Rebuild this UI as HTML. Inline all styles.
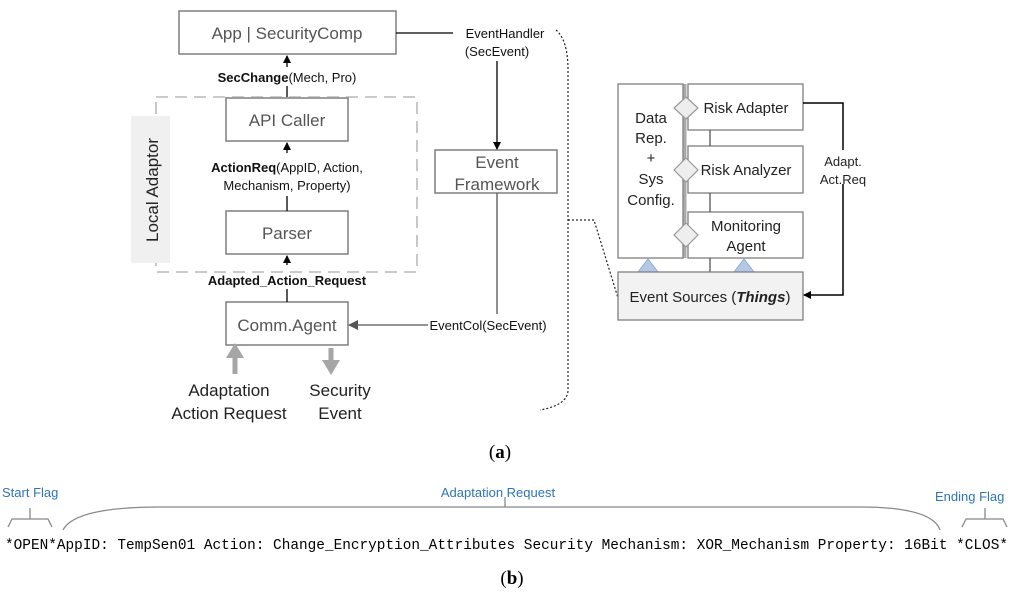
<!DOCTYPE html>
<html><head><meta charset="utf-8"><style>body{margin:0;background:#fff}svg{display:block}</style></head><body>
<svg width="1024" height="598" viewBox="0 0 1024 598" xmlns="http://www.w3.org/2000/svg" font-family="Liberation Sans, sans-serif">
<defs>
<marker id="a" markerWidth="8" markerHeight="8" refX="7" refY="4" orient="auto" markerUnits="userSpaceOnUse"><path d="M0,0 L8,4 L0,8z" fill="#000"/></marker>
<marker id="g" markerWidth="10" markerHeight="10" refX="9" refY="5" orient="auto" markerUnits="userSpaceOnUse"><path d="M0,0 L10,5 L0,10z" fill="#555"/></marker>
</defs>
<g fill="#fff" stroke="#7f7f7f" stroke-width="1.5">
<rect x="179" y="11" width="217" height="43"/>
<rect x="226" y="98" width="122" height="43"/>
<rect x="226" y="211" width="122" height="43"/>
<rect x="226" y="302" width="122" height="43"/>
<rect x="435" y="150" width="122" height="43"/>
</g>
<rect x="156" y="97" width="261" height="175" fill="none" stroke="#aaa" stroke-width="1.3" stroke-dasharray="12,7"/>
<rect x="131" y="116" width="39" height="147" fill="#f0f0f0"/>
<text transform="translate(158,190) rotate(-90)" text-anchor="middle" font-size="17" fill="#222">Local Adaptor</text>
<g font-size="17" fill="#555" text-anchor="middle">
<text x="287" y="39">App | SecurityComp</text>
<text x="287" y="126">API Caller</text>
<text x="287" y="239">Parser</text>
<text x="287" y="331">Comm.Agent</text>
<text x="497" y="168">Event</text>
<text x="497" y="190">Framework</text>
</g>
<g stroke="#000" stroke-width="1.3" fill="none">
<line x1="287" y1="97" x2="287" y2="86"/><line x1="287" y1="67" x2="287" y2="56" marker-end="url(#a)"/>
<line x1="287" y1="211" x2="287" y2="196"/><line x1="287" y1="153" x2="287" y2="143" marker-end="url(#a)"/>
<line x1="287" y1="302" x2="287" y2="289"/><line x1="287" y1="265" x2="287" y2="256" marker-end="url(#a)"/>
<line x1="396" y1="33" x2="453" y2="33"/>
<line x1="497" y1="61" x2="497" y2="149" marker-end="url(#a)"/>
<line x1="497" y1="193" x2="497" y2="314" stroke="#555"/>
<line x1="428" y1="325" x2="349" y2="325" stroke="#555" marker-end="url(#g)"/>
</g>
<g font-size="13" text-anchor="middle" fill="#111">
<text x="287" y="82"><tspan font-weight="bold">SecChange</tspan>(Mech, Pro)</text>
<text x="287" y="172"><tspan font-weight="bold">ActionReq</tspan>(AppID, Action,</text>
<text x="287" y="190">Mechanism, Property)</text>
<text x="287" y="285" font-weight="bold">Adapted_Action_Request</text>
<text x="505" y="38">EventHandler</text>
<text x="497" y="56">(SecEvent)</text>
<text x="488" y="330">EventCol(SecEvent)</text>
</g>
<path d="M235,374 V355" stroke="#a6a6a6" stroke-width="5"/><path d="M226,358 L235,343 L244,358z" fill="#a6a6a6"/>
<path d="M331,348 V362" stroke="#a6a6a6" stroke-width="5"/><path d="M322,360 L331,375 L340,360z" fill="#a6a6a6"/>
<g font-size="17" text-anchor="middle" fill="#222">
<text x="229" y="396">Adaptation</text><text x="229" y="419">Action Request</text>
<text x="340" y="396">Security</text><text x="340" y="419">Event</text>
</g>
<path d="M556,30 Q568,40 568,70 V390 Q568,405 540,410" fill="none" stroke="#222" stroke-width="1.2" stroke-dasharray="2,2"/>
<path d="M568,220 H594 L618,298" fill="none" stroke="#222" stroke-width="1.2" stroke-dasharray="2,2"/>
<g fill="#fff" stroke="#7f7f7f" stroke-width="1.3">
<rect x="618" y="84" width="65" height="174"/>
<rect x="688" y="84" width="115" height="46"/>
<rect x="688" y="146" width="115" height="47"/>
<rect x="688" y="212" width="115" height="46"/>
</g>
<g stroke="#555" stroke-width="1.3"><line x1="710" y1="130" x2="710" y2="146"/><line x1="710" y1="193" x2="710" y2="212"/><line x1="710" y1="258" x2="710" y2="272"/></g>
<line x1="685" y1="84" x2="685" y2="258" stroke="#aaa" stroke-width="3"/>
<g fill="#eee" stroke="#999" stroke-width="1.2">
<path d="M686,97 L698,108 L686,119 L674,108z"/>
<path d="M686,158 L698,170 L686,182 L674,170z"/>
<path d="M686,223 L698,235 L686,247 L674,235z"/>
</g>
<path d="M638,272 L648,259 L658,272z M734,272 L744,259 L754,272z" fill="#b4c7e7" stroke="#8faadc"/>
<rect x="618" y="272" width="185" height="48" fill="#f2f2f2" stroke="#7f7f7f" stroke-width="1.3"/>
<path d="M803,103 H843 V295 H804" fill="none" stroke="#000" stroke-width="1.5" marker-end="url(#a)"/>
<rect x="822" y="150" width="42" height="34" fill="#fff"/>
<g font-size="15" fill="#222" text-anchor="middle">
<text x="651" y="123">Data</text><text x="651" y="143">Rep.</text><text x="651" y="163">+</text><text x="651" y="184">Sys</text><text x="651" y="205">Config.</text>
<text x="746" y="113">Risk Adapter</text>
<text x="746" y="175">Risk Analyzer</text>
<text x="746" y="231">Monitoring</text><text x="746" y="251">Agent</text>
<text x="710" y="302">Event Sources (<tspan font-weight="bold" font-style="italic">Things</tspan>)</text>
</g>
<g font-size="13" fill="#222" text-anchor="middle"><text x="843" y="166">Adapt.</text><text x="843" y="184">Act.Req</text></g>
<text x="500" y="458" font-family="Liberation Serif, serif" font-size="19" text-anchor="middle">(<tspan font-weight="bold">a</tspan>)</text>
<g font-size="13" fill="#2e75b6">
<text x="2" y="497">Start Flag</text>
<text x="498" y="497" text-anchor="middle">Adaptation Request</text>
<text x="935" y="501">Ending Flag</text>
</g>
<g fill="none" stroke="#888" stroke-width="1.3">
<path d="M8,527 L12,519 H48 L52,527 M30,519 V508"/>
<path d="M63,530 Q75,507 160,507 H860 Q932,507 940,530 M505,507 V497"/>
<path d="M962,527 L966,519 H1003 L1007,527 M985,519 V508"/>
</g>
<text x="5" y="549" font-family="Liberation Mono, monospace" font-size="15" textLength="1003" lengthAdjust="spacingAndGlyphs">*OPEN*AppID: TempSen01 Action: Change_Encryption_Attributes Security Mechanism: XOR_Mechanism Property: 16Bit *CLOS*</text>
<text x="512" y="584" font-family="Liberation Serif, serif" font-size="19" text-anchor="middle">(<tspan font-weight="bold">b</tspan>)</text>
</svg>
</body></html>
